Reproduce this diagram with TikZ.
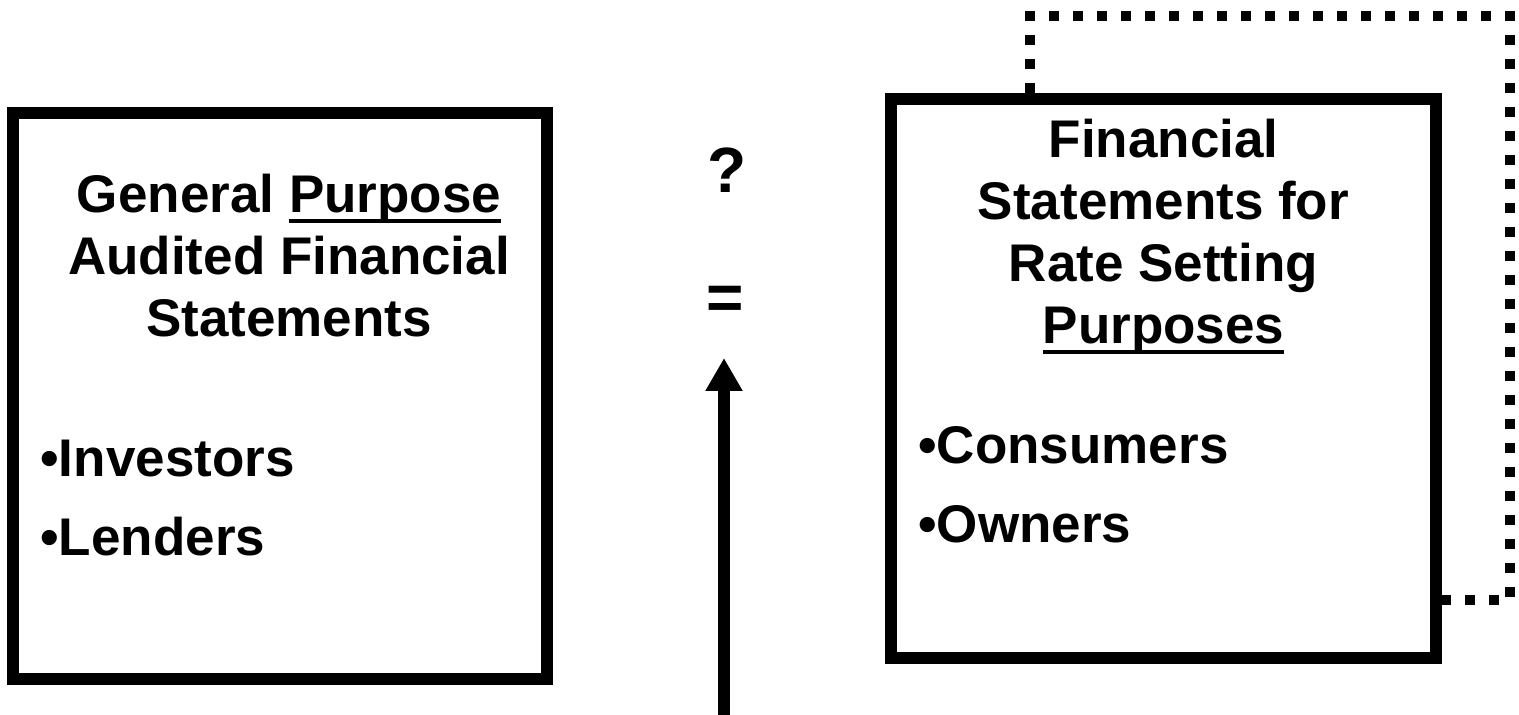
\documentclass[tikz,border=0pt]{standalone}
\usepackage{fontspec}
\setmainfont{Liberation Sans}
\usetikzlibrary{
  arrows.meta,
  positioning
}
\newcommand{\undl}[1]{\setbox0=\hbox{#1}\rlap{\vrule height -3pt depth 5pt width \wd0}\box0}
\tikzset{
  stmtbox/.style={draw=black,line width=6pt,inner sep=0pt},
  headtext/.style={font=\bfseries\fontsize{26.5}{31}\selectfont,align=center,inner sep=0pt,anchor=north},
  listtext/.style={font=\bfseries\fontsize{26.5}{39.5}\selectfont,align=left,inner sep=0pt,anchor=north west},
  marktext/.style={font=\bfseries\fontsize{32}{36}\selectfont,inner sep=0pt},
  dotframe/.style={line width=5pt,dash pattern=on 5pt off 7pt,line cap=butt},
  uparrow/.style={-{Triangle[width=17.5pt,length=16.5pt]},line width=6pt}
}

\begin{document}
\begin{tikzpicture}[x=0.5pt,y=-0.5pt]
\useasboundingbox (0,0) rectangle (1519,715);

\node[stmtbox,minimum width=267pt,minimum height=283pt] (gpbox) at (280,396) {};
\node[stmtbox,minimum width=272.5pt,minimum height=279.5pt] (rsbox) at (1163.5,378.5) {};

\node[headtext] (gptitle) at (289,174) {General \undl{Purpose}\\Audited Financial\\Statements};
\node[listtext] (gpusers) at (40,440) {•Investors\\•Lenders};

\node[headtext] (rstitle) at (1163.5,119) {Financial\\Statements for\\Rate Setting\\\undl{Purposes}};
\node[listtext] (rsusers) at (918,426) {•Consumers\\•Owners};

\node[marktext] (qmark) at (727,170) {?};
\node[marktext] (eqmark) at (725,303) {=};

\coordinate (abot) at (724,715);
\coordinate (atop) at (724,358);
\draw[uparrow] (abot) -- (atop);

\coordinate (dtl) at (1030,16);
\coordinate (dtr) at (1510,16);
\coordinate (dbr) at (1510,600);
\draw[dotframe] (rsbox.north -| dtl) -- (dtl) -- (dtr) -- (dbr) -- (dbr -| rsbox.east);
\end{tikzpicture}
\end{document}
